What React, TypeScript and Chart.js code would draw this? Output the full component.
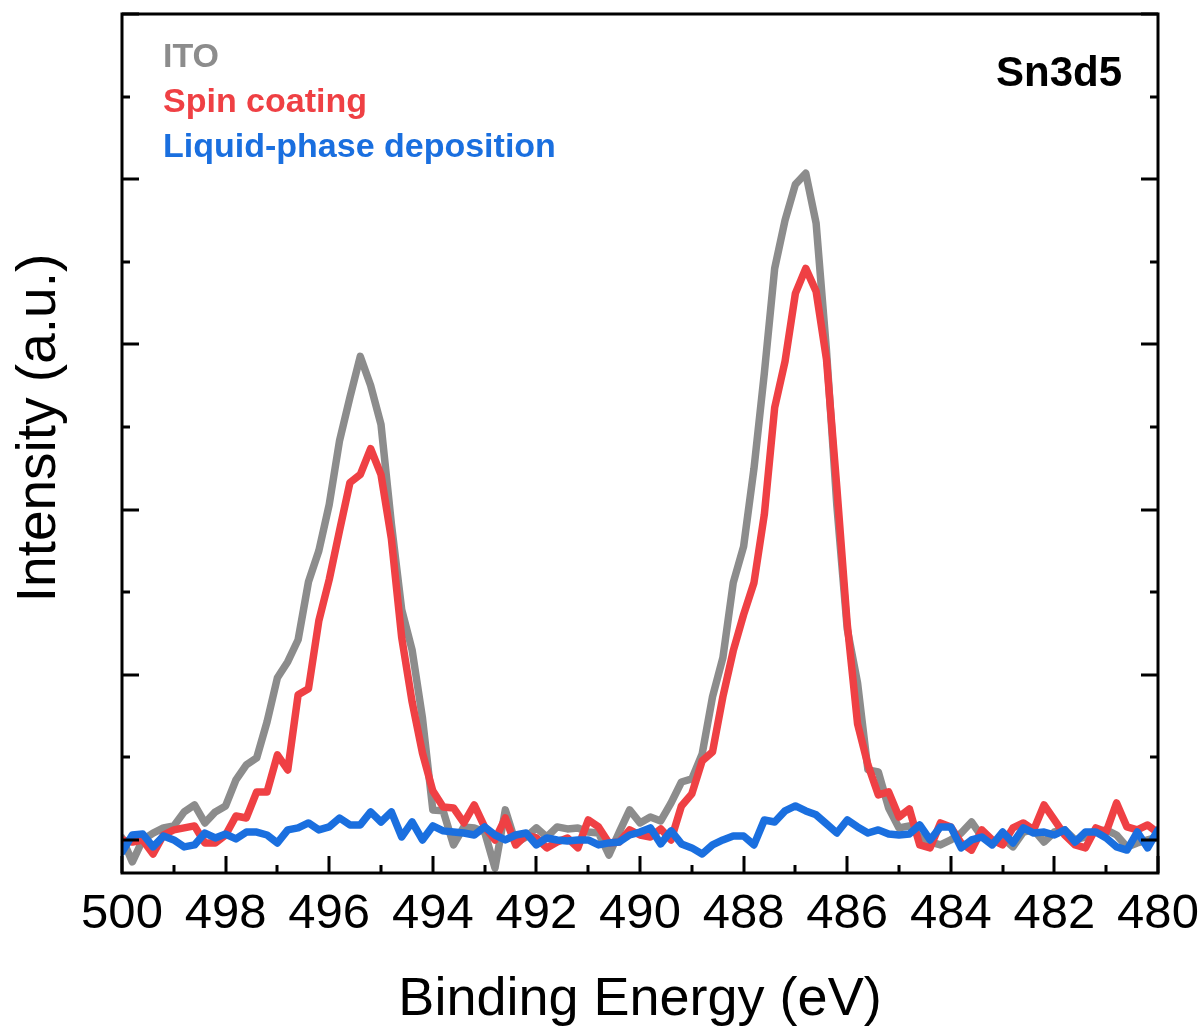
import React, { useEffect, useRef } from "react";
import { Chart, registerables } from "chart.js";

Chart.register(...registerables);

// Binding energy (eV), 0.2 eV steps from 500 to 480
const bindingEnergy = [
  500, 499.8, 499.6, 499.4, 499.2, 499, 498.8, 498.6, 498.4, 498.2,
  498, 497.8, 497.6, 497.4, 497.2, 497, 496.8, 496.6, 496.4, 496.2,
  496, 495.8, 495.6, 495.4, 495.2, 495, 494.8, 494.6, 494.4, 494.2,
  494, 493.8, 493.6, 493.4, 493.2, 493, 492.8, 492.6, 492.4, 492.2,
  492, 491.8, 491.6, 491.4, 491.2, 491, 490.8, 490.6, 490.4, 490.2,
  490, 489.8, 489.6, 489.4, 489.2, 489, 488.8, 488.6, 488.4, 488.2,
  488, 487.8, 487.6, 487.4, 487.2, 487, 486.8, 486.6, 486.4, 486.2,
  486, 485.8, 485.6, 485.4, 485.2, 485, 484.8, 484.6, 484.4, 484.2,
  484, 483.8, 483.6, 483.4, 483.2, 483, 482.8, 482.6, 482.4, 482.2,
  482, 481.8, 481.6, 481.4, 481.2, 481, 480.8, 480.6, 480.4, 480.2,
  480,
];

const itoIntensity = [
  12, -133, 0, 42, 73, 85, 170, 212, 103, 170,
  206, 364, 455, 497, 715, 982, 1079, 1212, 1563, 1751,
  2030, 2418, 2679, 2927, 2751, 2515, 1915, 1394, 1151, 739,
  182, 176, -30, 79, 73, 48, -170, 182, -18, 18,
  73, 18, 79, 67, 73, 48, 42, -91, 48, 182,
  103, 139, 115, 224, 351, 370, 521, 867, 1103, 1557,
  1776, 2248, 2824, 3460, 3751, 3969, 4036, 3733, 2963, 2024,
  1279, 951, 424, 412, 194, 73, 85, 18, -12, -30,
  0, 42, 109, 18, -12, 12, -42, 48, 61, -12,
  48, 61, 0, 18, 48, 61, 30, -42, -18, 0,
  18,
];

const spinCoatingIntensity = [
  0, -12, 0, -85, 30, 61, 73, 85, -18, -18,
  30, 145, 133, 291, 291, 515, 424, 879, 915, 1327,
  1576, 1873, 2163, 2212, 2369, 2212, 1824, 1224, 836, 527,
  297, 200, 194, 103, 212, 79, 0, 133, -30, 30,
  12, -48, -12, 12, -48, 121, 79, -18, -12, 61,
  30, 18, 67, 0, 206, 279, 479, 533, 867, 1145,
  1364, 1557, 1970, 2618, 2897, 3309, 3460, 3321, 2909, 2133,
  1309, 703, 455, 273, 291, 139, 188, -30, -48, 103,
  79, -18, -61, 61, 0, -30, 73, 103, 61, 212,
  121, 30, -30, -48, 73, 48, 224, 79, 61, 91,
  42,
];

const liquidPhaseIntensity = [
  -73, 30, 36, -42, 24, 0, -42, -30, 42, 12,
  36, 6, 48, 48, 30, -18, 61, 73, 103, 61,
  79, 133, 91, 91, 170, 109, 170, 18, 109, 0,
  85, 55, 48, 42, 30, 79, 30, 0, 30, 42,
  -30, 12, 0, -6, 0, 0, -30, -18, -12, 30,
  48, 73, -24, 55, -24, -48, -85, -30, 0, 24,
  24, -30, 121, 109, 176, 206, 176, 152, 97, 42,
  121, 79, 42, 61, 36, 30, 36, 91, 0, 79,
  79, -48, 0, 18, -30, 48, -18, 73, 42, 48,
  30, 61, -12, 48, 48, 12, -42, -61, 48, -48,
  61,
];

const seriesLabels = ["ITO", "Spin coating", "Liquid-phase deposition"];
const panelLabel = "Sn3d5";
const xAxisTitle = "Binding Energy (eV)";
const yAxisTitle = "Intensity (a.u.)";
const xMajorTicks = [500, 498, 496, 494, 492, 490, 488, 486, 484, 482, 480];

const COLORS = ["#8c8c8c", "#ef4044", "#1a6fdf"];
const FONT = "Arial, 'Liberation Sans', sans-serif";

const toPoints = (ys: number[]) => ys.map((y, i) => ({ x: bindingEnergy[i], y }));

const framePlugin = {
  id: "frameAndText",
  afterDatasetsDraw(chart: any) {
    const { ctx, chartArea: a, scales } = chart;
    const xs = scales.x;
    const ys = scales.y;
    ctx.save();
    ctx.strokeStyle = "#000";
    ctx.lineWidth = 3;
    ctx.strokeRect(a.left, a.top, a.right - a.left, a.bottom - a.top);
    ctx.beginPath();
    for (let v = 480; v <= 500; v += 1) {
      const px = Math.round(xs.getPixelForValue(v));
      const len = v % 2 === 0 ? 17 : 8;
      ctx.moveTo(px, a.bottom);
      ctx.lineTo(px, a.bottom - len);
    }
    for (let v = 0; v <= 5000; v += 500) {
      const py = Math.round(ys.getPixelForValue(v));
      const len = v % 1000 === 0 ? 17 : 8;
      ctx.moveTo(a.left, py);
      ctx.lineTo(a.left + len, py);
      ctx.moveTo(a.right, py);
      ctx.lineTo(a.right - len, py);
    }
    ctx.stroke();

    // legend text
    ctx.font = `bold 34px ${FONT}`;
    ctx.textAlign = "left";
    ctx.textBaseline = "alphabetic";
    seriesLabels.forEach((lab, i) => {
      ctx.fillStyle = COLORS[i];
      ctx.fillText(lab, a.left + 41, 67 + i * 45);
    });
    // panel label
    ctx.fillStyle = "#000";
    ctx.font = `bold 42px ${FONT}`;
    ctx.textAlign = "right";
    ctx.fillText(panelLabel, 1122, 86);

    // axis titles
    ctx.font = `54px ${FONT}`;
    ctx.textAlign = "center";
    ctx.textBaseline = "middle";
    ctx.fillText(xAxisTitle, (a.left + a.right) / 2, 1000);
    ctx.save();
    ctx.translate(40, 428);
    ctx.rotate(-Math.PI / 2);
    ctx.font = `55px ${FONT}`;
    ctx.fillText(yAxisTitle, 0, 0);
    ctx.restore();
    ctx.restore();
  },
};

export default function App() {
  const ref = useRef<HTMLCanvasElement | null>(null);
  useEffect(() => {
    if (!ref.current) return;
    const chart = new Chart(ref.current, {
      type: "line",
      data: {
        datasets: [
          { label: seriesLabels[0], data: toPoints(itoIntensity), borderColor: COLORS[0], order: 3 },
          { label: seriesLabels[1], data: toPoints(spinCoatingIntensity), borderColor: COLORS[1], order: 2 },
          { label: seriesLabels[2], data: toPoints(liquidPhaseIntensity), borderColor: COLORS[2], order: 1 },
        ].map((d) => ({
          ...d,
          borderWidth: 7.5,
          pointRadius: 0,
          tension: 0,
          fill: false,
          borderJoinStyle: "round" as const,
          borderCapStyle: "round" as const,
        })),
      },
      options: {
        animation: false,
        responsive: false,
        maintainAspectRatio: false,
        layout: { padding: { left: 122, right: 45, top: 14, bottom: 0 } },
        plugins: { legend: { display: false }, tooltip: { enabled: false } },
        scales: {
          x: {
            type: "linear",
            reverse: true,
            min: 480,
            max: 500,
            grid: { display: false, drawTicks: false },
            border: { display: false },
            afterBuildTicks: (scale: any) => {
              scale.ticks = xMajorTicks.map((v) => ({ value: v }));
            },
            afterFit: (scale: any) => {
              scale.height = 161;
              scale.paddingLeft = 0;
              scale.paddingRight = 0;
            },
            ticks: {
              autoSkip: false,
              maxRotation: 0,
              minRotation: 0,
              padding: 12,
              color: "#000",
              font: { family: FONT, size: 49 },
            },
          },
          y: {
            type: "linear",
            min: -200,
            max: 5000,
            display: false,
          },
        },
      },
      plugins: [framePlugin],
    });
    return () => chart.destroy();
  }, []);
  return (
    <div style={{ position: "fixed", left: 0, top: 0, width: 1203, height: 1034, background: "#fff" }}>
      <canvas ref={ref} width={1203} height={1034} style={{ width: 1203, height: 1034 }} />
    </div>
  );
}
